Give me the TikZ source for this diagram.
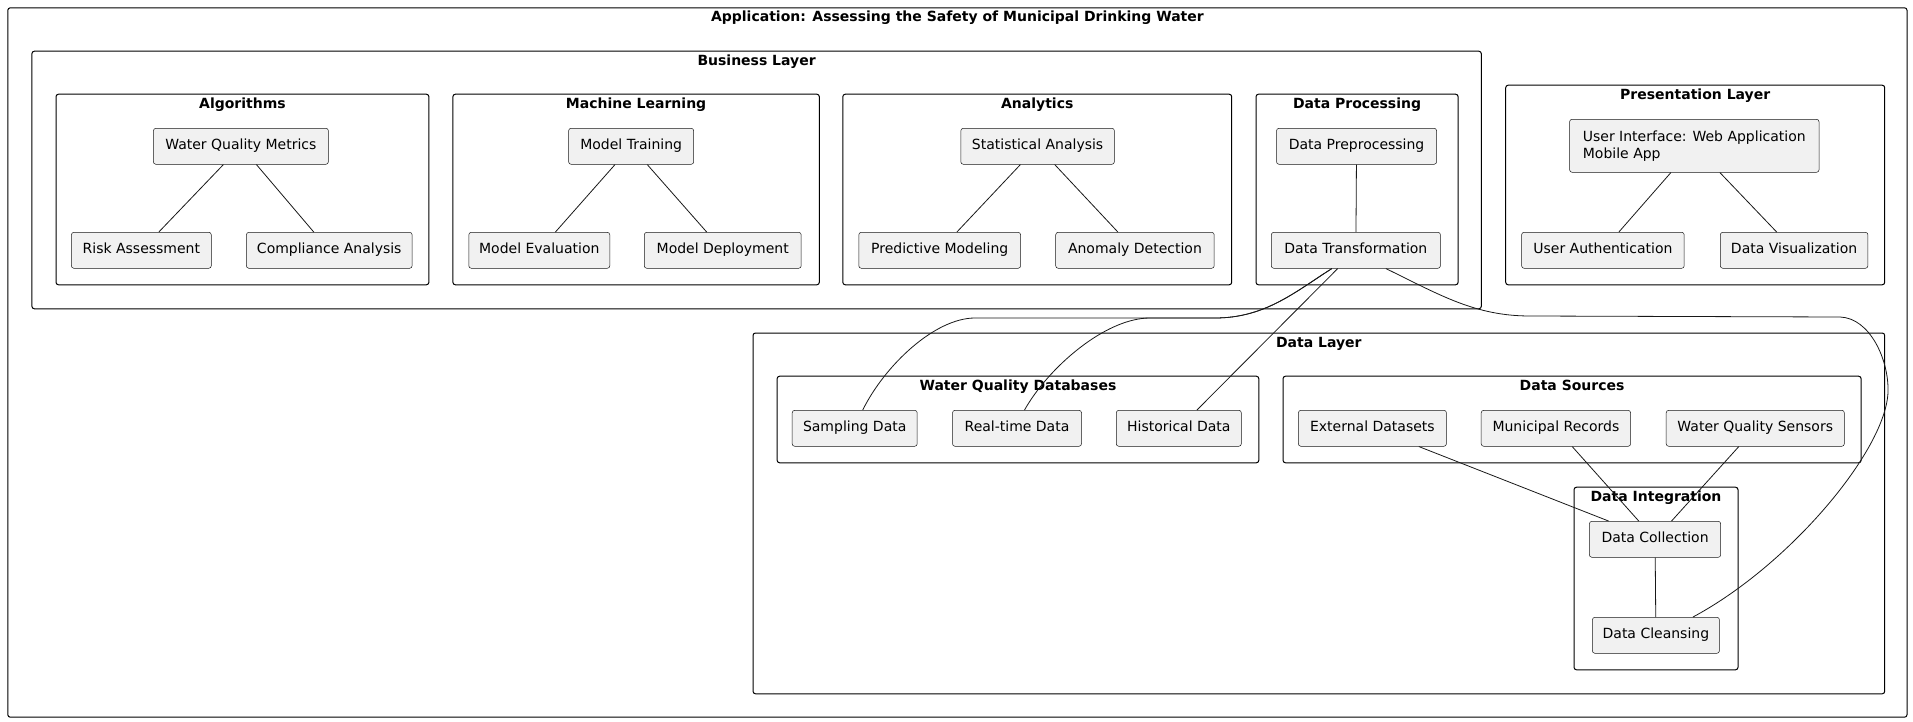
\documentclass[tikz,border=0pt]{standalone}
\usepackage{fontspec}
\setmainfont{DejaVu Sans}
\usetikzlibrary{calc}
\definecolor{compfill}{HTML}{F1F1F1}
\definecolor{edgec}{HTML}{181818}
\newcommand\nf{\fontsize{14.05}{17.3}\selectfont}
\newcommand\mygroup[6]{%
  \node[grp, anchor=north west, minimum width={(#4-#2)*1bp}, minimum height={(#5-#3)*1bp}] (#1) at (#2,#3) {};
  \node[gtitle, anchor=base] (#1t) at ([yshift=-14.6bp]#1.north) {#6};}
\newcommand\mycomp[6]{%
  \node[comp, minimum width={(#4-#2)*1bp}, minimum height={(#5-#3)*1bp}] (#1) at ({(#2+#4)/2},{(#3+#5)/2}) {#6};}
\begin{document}
\begin{tikzpicture}[x=1bp,y=-1bp,
  grp/.style={draw=black, line width=1bp, rounded corners=2.5bp, inner sep=0pt},
  gtitle/.style={font=\nf\bfseries, inner sep=0pt},
  comp/.style={draw=edgec, line width=0.5bp, fill=compfill, rounded corners=2.5bp, font=\nf, inner sep=0pt, text height=10.5bp, text depth=3.3bp},
  compml/.style={draw=edgec, line width=0.5bp, fill=compfill, rounded corners=2.5bp, font=\nf, inner sep=0pt, align=left},
  conn/.style={draw=edgec, line width=0.8bp}]
\useasboundingbox (0,0) rectangle (1913,722);

% groups
\mygroup{outer}{7.3}{7.3}{1906.5}{716.7}{Application: Assessing the Safety of Municipal Drinking Water}
\mygroup{bl}{31.4}{50.7}{1480.8}{308.3}{Business Layer}
\mygroup{alg}{55.5}{93.7}{428.4}{284.3}{Algorithms}
\mygroup{ml}{452.4}{93.7}{818.8}{284.3}{Machine Learning}
\mygroup{an}{842.3}{93.7}{1231.2}{284.3}{Analytics}
\mygroup{dpg}{1255.5}{93.7}{1457.6}{284.3}{Data Processing}
\mygroup{pl}{1505.2}{84.7}{1884.2}{284.3}{Presentation Layer}
\mygroup{dl}{752.5}{332.5}{1884.2}{693.3}{Data Layer}
\mygroup{wqdb}{776.6}{375.7}{1258.3}{462.3}{Water Quality Databases}
\mygroup{ds}{1282.5}{375.7}{1860.6}{462.3}{Data Sources}
\mygroup{di}{1573.5}{486.7}{1737.5}{669.3}{Data Integration}

% components
\mycomp{wqm}{153.4}{128.3}{328.4}{164.3}{Water Quality Metrics}
\mycomp{ra}{71.4}{232.3}{211.3}{268.3}{Risk Assessment}
\mycomp{ca}{246.4}{232.3}{412.1}{268.3}{Compliance Analysis}
\mycomp{mt}{568.6}{128.3}{693.7}{164.3}{Model Training}
\mycomp{me}{468.8}{232.3}{609.8}{268.3}{Model Evaluation}
\mycomp{md}{644.3}{232.3}{801.2}{268.3}{Model Deployment}
\mycomp{sa}{960.8}{128.3}{1114.4}{164.3}{Statistical Analysis}
\mycomp{pm}{858.8}{232.3}{1020.6}{268.3}{Predictive Modeling}
\mycomp{ad}{1055.7}{232.3}{1214.2}{268.3}{Anomaly Detection}
\mycomp{dp}{1276.5}{128.3}{1436.6}{164.3}{Data Preprocessing}
\mycomp{dt}{1271.3}{232.3}{1440.4}{268.3}{Data Transformation}
\node[compml, minimum width=249.4bp, minimum height=53bp] (ui) at (1694.3,145.8) {User Interface: Web Application\\Mobile App};
\mycomp{ua}{1521.6}{232.3}{1684.2}{268.3}{User Authentication}
\mycomp{dv}{1720.3}{232.3}{1867.9}{268.3}{Data Visualization}
\mycomp{sd}{792.2}{410.3}{917.2}{446.3}{Sampling Data}
\mycomp{rt}{952.5}{410.3}{1081.5}{446.3}{Real-time Data}
\mycomp{hd}{1116.3}{410.3}{1241.3}{446.3}{Historical Data}
\mycomp{ed}{1298.4}{410.3}{1446.4}{446.3}{External Datasets}
\mycomp{mr}{1481.2}{410.3}{1630.6}{446.3}{Municipal Records}
\mycomp{wqs}{1666.2}{410.3}{1844.3}{446.3}{Water Quality Sensors}
\mycomp{dc}{1589.4}{521.3}{1720.7}{557.3}{Data Collection}
\mycomp{dcl}{1592.4}{617.3}{1719.4}{653.3}{Data Cleansing}

% connectors
\draw[conn] (wqm) -- (ra);
\draw[conn] (wqm) -- (ca);
\draw[conn] (mt) -- (me);
\draw[conn] (mt) -- (md);
\draw[conn] (sa) -- (pm);
\draw[conn] (sa) -- (ad);
\draw[conn] (dp) -- (dt);
\draw[conn] (ui) -- (ua);
\draw[conn] (ui) -- (dv);
\draw[conn] (ed) -- (dc);
\draw[conn] (mr) -- (dc);
\draw[conn] (wqs) -- (dc);
\draw[conn] (dc) -- (dcl);
\draw[conn] (dt) -- (hd);
\draw[conn] ([xshift=-24bp]dt.south) .. controls (1295,292) and (1265,318) .. (1215,318) -- (975,318) .. controls (935,318) and (885,365) .. ([xshift=8bp]sd.north);
\draw[conn] ([xshift=-24bp]dt.south) .. controls (1295,292) and (1265,318) .. (1215,318) -- (1150,318) .. controls (1105,318) and (1048,368) .. ([xshift=7.5bp]rt.north);
\draw[conn] ([xshift=30bp]dt.south) .. controls (1440,295) and (1475,316) .. (1530,316) -- (1840,317) .. controls (1870,318) and (1889,360) .. (1888,392) .. controls (1886,450) and (1790,565) .. ([xshift=37bp]dcl.north);
\end{tikzpicture}
\end{document}
